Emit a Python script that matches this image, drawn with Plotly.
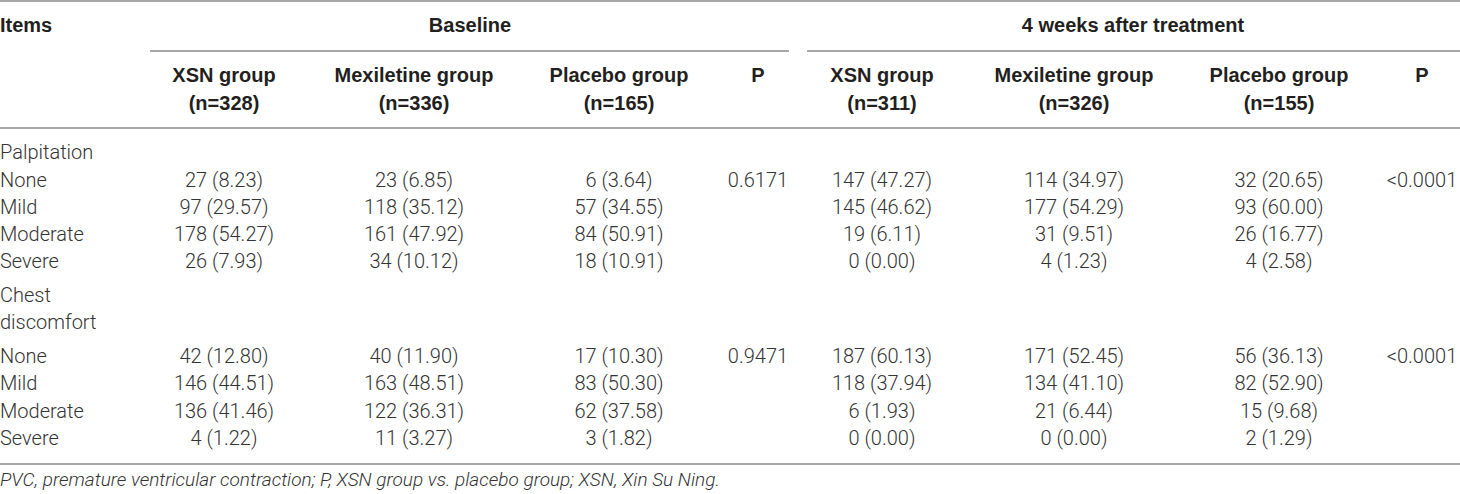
import plotly.graph_objects as go

# ---------------------------------------------------------------------------
# Data read off the table
# ---------------------------------------------------------------------------
severity = ['None', 'Mild', 'Moderate', 'Severe']
groups = ['XSN group', 'Mexiletine group', 'Placebo group']
n_base = [328, 336, 165]
n_wk4 = [311, 326, 155]

palp_base_xsn = [27, 97, 178, 26]
palp_base_xsn_pct = [8.23, 29.57, 54.27, 7.93]
palp_base_mex = [23, 118, 161, 34]
palp_base_mex_pct = [6.85, 35.12, 47.92, 10.12]
palp_base_pla = [6, 57, 84, 18]
palp_base_pla_pct = [3.64, 34.55, 50.91, 10.91]
palp_wk4_xsn = [147, 145, 19, 0]
palp_wk4_xsn_pct = [47.27, 46.62, 6.11, 0.00]
palp_wk4_mex = [114, 177, 31, 4]
palp_wk4_mex_pct = [34.97, 54.29, 9.51, 1.23]
palp_wk4_pla = [32, 93, 26, 4]
palp_wk4_pla_pct = [20.65, 60.00, 16.77, 2.58]
palp_p = ['0.6171', '<0.0001']

chest_base_xsn = [42, 146, 136, 4]
chest_base_xsn_pct = [12.80, 44.51, 41.46, 1.22]
chest_base_mex = [40, 163, 122, 11]
chest_base_mex_pct = [11.90, 48.51, 36.31, 3.27]
chest_base_pla = [17, 83, 62, 3]
chest_base_pla_pct = [10.30, 50.30, 37.58, 1.82]
chest_wk4_xsn = [187, 118, 6, 0]
chest_wk4_xsn_pct = [60.13, 37.94, 1.93, 0.00]
chest_wk4_mex = [171, 134, 21, 0]
chest_wk4_mex_pct = [52.45, 41.10, 6.44, 0.00]
chest_wk4_pla = [56, 82, 15, 2]
chest_wk4_pla_pct = [36.13, 52.90, 9.68, 1.29]
chest_p = ['0.9471', '<0.0001']

footnote = ('PVC, premature ventricular contraction; P, XSN group vs. placebo '
            'group; XSN, Xin Su Ning.')

# ---------------------------------------------------------------------------
# Layout (pixel grid of the page)
# ---------------------------------------------------------------------------
W, H = 1460, 494
col_x = [224, 414, 619, 758, 882, 1074, 1279, 1422]
palp_rows = [182, 209, 236, 263]
chest_rows = [358, 385, 413, 440]

HEAD = dict(family='Liberation Sans, Arial', size=20, color='#231f20', weight=700)
BODY = dict(family='Roboto', size=20, color='#333333', weight=300)
LINE = dict(color='#a6a6a6', width=2)


def cells(counts, pcts):
    return ['%d (%.2f)' % (c, p) for c, p in zip(counts, pcts)]


def text(fig, xs, ys, labels, font, pos='middle center'):
    fig.add_trace(go.Scatter(
        x=xs, y=ys, text=labels, mode='text', textposition=pos,
        textfont=font, hoverinfo='skip', showlegend=False, cliponaxis=False
    ))


fig = go.Figure()

# Header ---------------------------------------------------------------------
text(fig, [0], [27], ['Items'], HEAD, 'middle right')
text(fig, [470, 1133], [27, 27], ['Baseline', '4 weeks after treatment'], HEAD)
head_lbl = groups + ['P'] + groups + ['P']
text(fig, col_x, [77] * 8, head_lbl, HEAD)
n_lbl = ['(n=%d)' % n for n in n_base] + ['(n=%d)' % n for n in n_wk4]
text(fig, col_x[:3] + col_x[4:7], [105] * 6, n_lbl, HEAD)

# Row labels -----------------------------------------------------------------
text(fig, [0] * 12,
     [154] + palp_rows + [297, 324] + chest_rows,
     ['Palpitation'] + severity + ['Chest', 'discomfort'] + severity,
     BODY, 'middle right')

# Body cells -----------------------------------------------------------------
blocks = [
    (palp_rows, [
        cells(palp_base_xsn, palp_base_xsn_pct),
        cells(palp_base_mex, palp_base_mex_pct),
        cells(palp_base_pla, palp_base_pla_pct),
        [palp_p[0], '', '', ''],
        cells(palp_wk4_xsn, palp_wk4_xsn_pct),
        cells(palp_wk4_mex, palp_wk4_mex_pct),
        cells(palp_wk4_pla, palp_wk4_pla_pct),
        [palp_p[1], '', '', ''],
    ]),
    (chest_rows, [
        cells(chest_base_xsn, chest_base_xsn_pct),
        cells(chest_base_mex, chest_base_mex_pct),
        cells(chest_base_pla, chest_base_pla_pct),
        [chest_p[0], '', '', ''],
        cells(chest_wk4_xsn, chest_wk4_xsn_pct),
        cells(chest_wk4_mex, chest_wk4_mex_pct),
        cells(chest_wk4_pla, chest_wk4_pla_pct),
        [chest_p[1], '', '', ''],
    ]),
]
for rows, cols in blocks:
    for x, col in zip(col_x, cols):
        text(fig, [x] * len(rows), rows, col, BODY)

# Footnote -------------------------------------------------------------------
text(fig, [0], [481], [footnote], dict(BODY, size=19, style='italic'),
     'middle right')

# Rules ----------------------------------------------------------------------
for x0, x1, y in [(0, W, 1), (150, 789, 51), (807, W, 51),
                  (0, W, 128), (0, W, 464)]:
    fig.add_shape(type='line', x0=x0, x1=x1, y0=y, y1=y,
                  xref='x', yref='y', line=LINE)

fig.update_xaxes(range=[0, W], visible=False, fixedrange=True)
fig.update_yaxes(range=[H, 0], visible=False, fixedrange=True)
fig.update_layout(
    width=W, height=H, margin=dict(l=0, r=0, t=0, b=0),
    paper_bgcolor='white', plot_bgcolor='white'
)
fig.write_html(
    'out.html',
    config={'displayModeBar': False},
    post_script="document.body.style.margin='0';"
                "document.body.style.overflow='hidden';"
)
